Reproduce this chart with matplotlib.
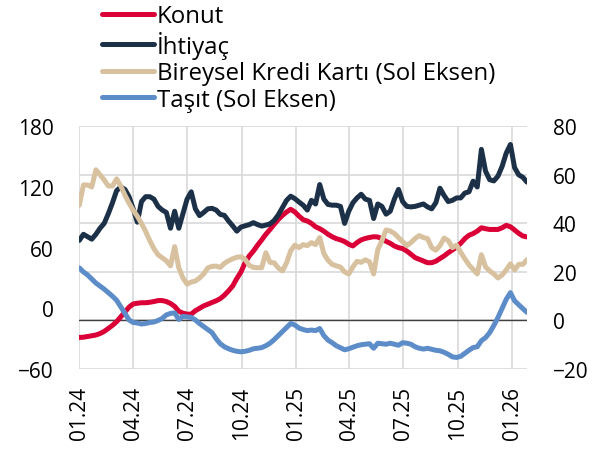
import matplotlib
matplotlib.use("Agg")
import matplotlib.pyplot as plt
import matplotlib.dates as mdates
import numpy as np
import pandas as pd

# weekly dates
dates = pd.date_range("2024-01-01", periods=109, freq="7D")

# right axis
konut = [-7.0, -6.9, -6.6, -6.3, -6.0, -5.4, -4.5, -3.3, -2.0, -0.5,
         1.5, 3.5, 5.5, 6.8, 7.1, 7.3, 7.3, 7.5, 7.8, 8.2,
         8.2, 7.8, 7.0, 5.8, 3.8, 3.0, 2.6, 2.6, 4.0, 5.0,
         6.0, 6.7, 7.4, 8.1, 9.0, 10.4, 12.2, 14.2, 17.3, 20.0,
         23.8, 26.6, 28.6, 31.0, 33.2, 35.5, 37.5, 39.6, 41.6, 43.3,
         44.7, 45.8, 44.7, 43.0, 41.5, 41.0, 40.0, 38.6, 37.8, 36.8,
         35.5, 34.5, 33.7, 33.2, 32.5, 31.4, 30.7, 32.1, 33.2, 33.8,
         34.2, 34.5, 34.4, 33.7, 32.6, 31.8, 30.7, 30.0, 29.6, 28.6,
         27.3, 25.9, 25.2, 24.5, 23.8, 23.8, 24.4, 25.5, 26.6, 27.9,
         29.0, 30.3, 31.8, 33.7, 35.1, 35.8, 36.8, 38.2, 37.8, 37.5,
         37.5, 37.5, 38.2, 39.2, 38.6, 37.3, 35.9, 34.8, 34.4]

ihtiyac = [33, 35.5, 34.5, 33.5, 35.5, 38, 40, 44, 48.5, 53.5,
           55, 54, 51, 46, 40.5, 49, 51, 51, 50, 47,
           45.5, 44.5, 38, 45, 38, 44, 50, 53, 46, 43.2,
           44.5, 46, 46.2, 45.5, 43.7, 43.3, 41, 39, 36.8, 38.5,
           39, 39.5, 40.3, 39.5, 38.9, 39.3, 39.8, 41.2, 43.5, 46.5,
           49.5, 51.2, 50.2, 48.8, 47.5, 45.5, 49.5, 48, 56, 50,
           47.8, 47.5, 47.5, 47, 40, 45, 48.5, 50.5, 52, 50,
           49.5, 42, 48, 47, 43.8, 45, 50, 54, 49, 47,
           46.8, 47, 47.5, 48, 46.8, 46, 48.5, 54.5, 51.5, 49,
           49.5, 50.5, 50.5, 52.5, 53, 57.4, 55, 70.5, 61.5, 58,
           57.5, 59.5, 63.5, 69, 72.5, 63, 60, 59, 57]

# left axis (Sol Eksen)
kredi_karti = [102, 122, 122, 120, 137, 132, 127, 121, 121, 128,
               121, 112, 104, 97, 91, 84, 76, 67, 59, 53,
               50, 47, 42, 61, 40, 30, 24, 26, 27, 30,
               34, 40, 41.5, 41.8, 40.5, 44.5, 47, 49, 50.5, 51,
               48.4, 42.5, 40.5, 40.2, 40.2, 55, 45.5, 45, 40, 37,
               45, 57, 62.5, 60, 63, 62, 65, 63, 70, 54,
               47.5, 43.5, 42, 40.8, 36, 34, 41, 46.5, 45.5, 48,
               46, 34, 58, 67, 77.5, 76.5, 74, 70, 66, 62,
               65, 69, 72, 70, 69, 60, 57.5, 62, 69.5, 67,
               60, 62.5, 55.5, 49, 43, 38.5, 34, 53, 41, 37,
               34, 30, 33, 38, 44, 38, 43.5, 43.5, 48]

tasit = [40, 36, 33, 29, 25, 22, 19, 15.5, 12, 8,
         1.5, -5, -11.5, -14, -14.5, -15.5, -15, -14, -13.5, -12,
         -10, -6.5, -5, -4.5, -11, -8, -8.5, -9, -11.5, -15,
         -18, -21, -24, -30, -35, -38, -40, -41.5, -42.5, -43,
         -42.5, -41.5, -40, -39.5, -38.8, -37, -34.5, -31, -27, -23,
         -19, -15, -16.5, -19.5, -21, -22, -21.5, -22, -20, -27,
         -31.5, -34, -37, -39, -41, -40, -38.5, -37, -36, -35.5,
         -35, -39.5, -34.5, -35, -35.5, -34.5, -35.5, -36.5, -34, -34.5,
         -35.5, -38, -39.5, -40.3, -39.5, -40.5, -41.5, -42, -43.5, -45.5,
         -48, -48.6, -47.5, -44.5, -41.5, -38.8, -38, -32, -29, -24,
         -17, -9, 0, 9, 15.5, 7.5, 3.5, -0.3, -4]

labels = ["Konut", "İhtiyaç", "Bireysel Kredi Kartı (Sol Eksen)", "Taşıt (Sol Eksen)"]
colors = ["#DA0037", "#1C3148", "#D8C19E", "#5D8DC9"]

right_ticks = [-20, 0, 20, 40, 60, 80]
left_ticks = [-60, 0, 60, 120, 180]

plt.rcParams["font.family"] = ["Open Sans", "DejaVu Sans"]
plt.rcParams["font.size"] = 15


def main():
    fig = plt.figure(figsize=(5.99, 4.56), dpi=100)
    # ax carries the right-hand scale, grid and zero line (drawn below)
    ax = fig.add_axes([0.1324, 0.1886, 0.7474, 0.5322])
    ax2 = ax.twinx()
    ax.yaxis.tick_right()
    ax2.yaxis.tick_left()

    lw = 3.6
    l1, = ax.plot(dates, konut, color=colors[0], lw=lw, solid_capstyle="round")
    l2, = ax.plot(dates, ihtiyac, color=colors[1], lw=lw, solid_capstyle="round")
    l3, = ax2.plot(dates, kredi_karti, color=colors[2], lw=lw, solid_capstyle="round")
    l4, = ax2.plot(dates, tasit, color=colors[3], lw=lw, solid_capstyle="round")

    ax.axhline(0, color="#404040", lw=1.0, zorder=1)

    ax.set_ylim(-20, 80)
    ax.set_yticks(right_ticks)
    ax2.set_ylim(-60, 180)
    ax2.set_yticks(left_ticks)
    ax.set_xlim(dates[0], dates[-1])

    ax.xaxis.set_major_locator(mdates.MonthLocator(bymonth=[1, 4, 7, 10]))
    ax.xaxis.set_major_formatter(mdates.DateFormatter("%m.%y"))

    ax.set_axisbelow(True)
    ax.grid(True, color="#D9D9D9", lw=1.2)

    ax.tick_params(axis="x", length=0, pad=12, labelrotation=90, labelsize=15)
    ax.tick_params(axis="y", length=0, pad=18.5, labelsize=15)
    ax2.tick_params(axis="y", length=0, pad=18.5, labelsize=15)
    for a in (ax, ax2):
        for s in a.spines.values():
            s.set_visible(False)

    fig.legend([l1, l2, l3, l4], labels, loc="upper left",
               bbox_to_anchor=(0.171, 0.988), frameon=False,
               handlelength=2.15, handletextpad=0.12, labelspacing=0.1,
               borderpad=0, borderaxespad=0, fontsize=17.3)

    plt.savefig("out.png", dpi=100)


if __name__ == "__main__":
    main()
